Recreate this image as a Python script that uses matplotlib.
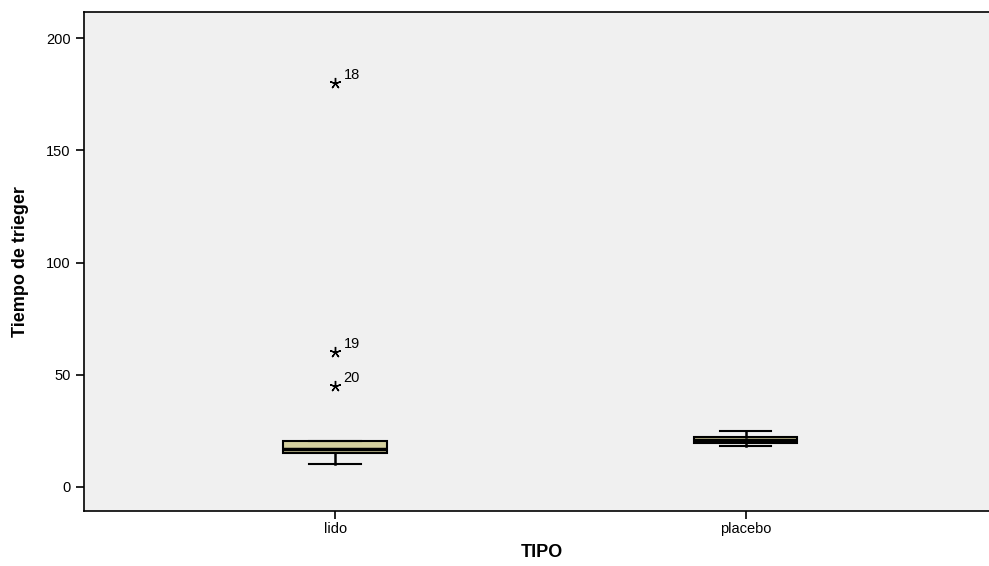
import matplotlib
matplotlib.use("Agg")
import matplotlib.pyplot as plt

categories = ["lido", "placebo"]
q1 = [15.2, 19.6]
med = [16.9, 20.8]
q3 = [20.3, 22.2]
whis_lo = [10.2, 18.3]
whis_hi = [20.3, 25.1]
outlier_values = [[180.0, 60.0, 45.0], []]
outlier_ids = [["18", "19", "20"], []]
yticks = [0, 50, 100, 150, 200]

fig = plt.figure(figsize=(9.89, 5.66), dpi=100)
ax = fig.add_axes([0.0849, 0.0972, 0.9151 + 0.01, 0.8816])
ax.set_facecolor("#f0f0f0")

stats = []
for i, c in enumerate(categories):
    stats.append(dict(label=c, q1=q1[i], med=med[i], q3=q3[i],
                      whislo=whis_lo[i], whishi=whis_hi[i], fliers=[]))
positions = [0, 1]
ax.bxp(stats, positions=positions, widths=0.252, patch_artist=True,
       showfliers=False,
       boxprops=dict(facecolor="#d4cf9d", edgecolor="black", linewidth=1.5),
       medianprops=dict(color="black", linewidth=2.5),
       whiskerprops=dict(color="black", linewidth=1.8),
       capprops=dict(color="black", linewidth=1.5),
       capwidths=0.126)

for i, vals in enumerate(outlier_values):
    for v, lab in zip(vals, outlier_ids[i]):
        ax.plot(positions[i], v, marker=(5, 2, 0), color="black",
                markersize=8, markeredgewidth=1.0, linestyle="none")
        ax.annotate(lab, (positions[i], v), xytext=(6, 3),
                    textcoords="offset points", fontsize=10.5,
                    family="Liberation Sans", color="black")

ax.set_xlim(-0.612, 1.617)
ax.set_ylim(-10.7, 211.6)
ax.set_yticks(yticks)
ax.set_xticks(positions)
ax.set_xticklabels(categories, family="Liberation Sans", fontsize=10.5)
ax.set_yticklabels([str(t) for t in yticks], family="Liberation Sans", fontsize=10.5)
ax.tick_params(axis="both", length=6, width=1.2, color="black")
ax.tick_params(axis="x", pad=2)
for s in ["left", "bottom", "top"]:
    ax.spines[s].set_linewidth(1.2)
ax.spines["right"].set_visible(False)

ax.set_xlabel("TIPO", family="Liberation Sans", fontsize=13, fontweight="bold", labelpad=6)
ax.set_ylabel("Tiempo de trieger", family="Liberation Sans", fontsize=13,
              fontweight="bold", labelpad=12)

fig.savefig("out.png", dpi=100)
